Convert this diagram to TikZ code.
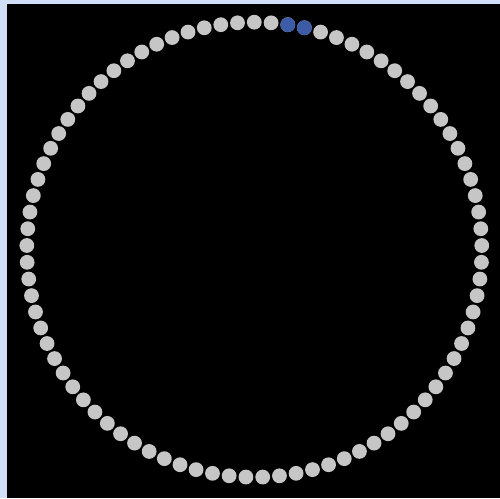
\documentclass[tikz,border=0pt]{standalone}
\usepackage{tikz}
\usepackage{xcolor}
\definecolor{frameblue}{RGB}{208,222,247}
\definecolor{beadgray}{RGB}{198,198,198}
\definecolor{beadblue}{RGB}{60,92,168}
\tikzset{bead/.style={circle,inner sep=0pt,minimum size=14.8pt,fill=beadgray}}
\begin{document}
\begin{tikzpicture}[x=1pt,y=-1pt]
\pgfmathsetmacro{\R}{227.5}
\pgfmathsetmacro{\s}{360/85}
\fill[frameblue](0,0) rectangle (500,498);
\fill[black](7,4) rectangle (500,498);
\useasboundingbox (0,0) rectangle (500,498);
\begin{scope}[shift={(254.3,249.7)}]
% ring of beads, starting at the top, going clockwise
\foreach \k in {0,...,84}{
  \node[bead] (b\k) at ({-90+\k*\s}:\R) {};}
\node[bead,fill=beadblue] (b2) at ({-90+2*\s}:\R) {};
\node[bead,fill=beadblue] (b3) at ({-90+3*\s}:\R) {};
\end{scope}
\end{tikzpicture}
\end{document}
